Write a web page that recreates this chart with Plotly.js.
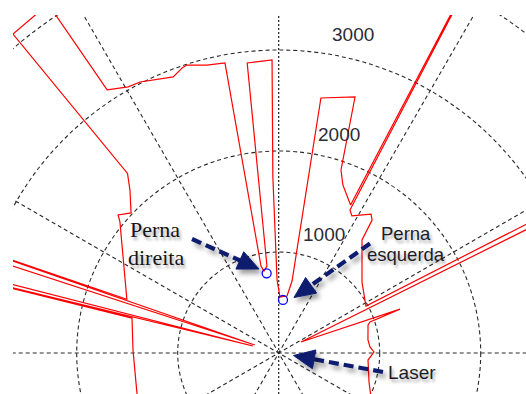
<!DOCTYPE html>
<html>
<head>
<meta charset="utf-8">
<script src="https://cdn.plot.ly/plotly-3.0.1.min.js"></script>
<style>
  html, body { margin: 0; padding: 0; background: #ffffff; }
  #chart { width: 526px; height: 394px; }
</style>
</head>
<body>
<div id="chart"></div>
<script>
// ---- Laser range scan (one sweep): beam angle in degrees (CCW from +x) and range in mm
const scanAngleDeg = [
  -30.0, -17.8, -4.5, -2.5, 0.6, 3.8, 8.3, 17.4, 18.8, 19.9,
  26.3, 26.5, 27.3, 28.3, 40.4, 53.6, 54.9, 56.4, 61.9, 63.5,
  62.8, 62.9, 64.1, 69.1, 71.2, 73.4, 80.6, 79.5, 81.7, 88.7,
  91.3, 91.9, 91.3, 96.2, 97.7, 100.2, 101.5, 100.5, 104.0, 107.7,
  108.7, 110.9, 117.1, 119.5, 123.1, 123.6, 124.8, 129.8, 130.1, 132.4,
  136.5, 139.3, 140.5, 160.5, 160.9, 161.5, 161.9, 165.6, 164.8, 166.3,
  166.6, 178.8, 196.1, 210.0
];
const scanRangeMm = [
  1070, 939, 887, 905, 943, 906, 893, 927, 955, 1277,
  246, 4600, 4600, 981, 1083, 1390, 1608, 1652, 1538, 1582,
  4700, 4700, 1629, 1781, 1914, 2645, 2559, 725, 570, 555,
  723, 1743, 2902, 2888, 869, 825, 879, 2920, 2938, 2992,
  2980, 2926, 3014, 3027, 3110, 4800, 4130, 4110, 2324, 2184,
  2015, 2097, 2037, 1595, 4700, 250, 4700, 4700, 265, 4700,
  1493, 1443, 1460, 1620
];

// ---- Detected legs
const legNames = ['Perna esquerda', 'Perna direita'];
const legAngleDeg = [85.4, 98.6];
const legRangeMm = [527, 798];

// ---- Polar grid
const ringRadiiMm = [1000, 2000, 3000, 4000];
const ringLabels = ['1000', '2000', '3000'];
const spokeAnglesDeg = [0, 30, 60, 90, 120, 150];

// ---- Geometry of the view (pixels): sensor position and scale
const W = 526, H = 394;
const OX = 278.7, OY = 353;       // sensor in page pixels
const PX_PER_MM = 0.101;
const PLOT_L = 13, PLOT_T = 15;   // clipped plotting box

const rad = d => d * Math.PI / 180;
const polX = (a, r) => r * Math.cos(rad(a));
const polY = (a, r) => r * Math.sin(rad(a));
const pxX = px => (px - OX) / PX_PER_MM;
const pxY = py => (OY - py) / PX_PER_MM;

const scanTrace = {
  type: 'scatter', mode: 'lines',
  x: scanAngleDeg.map((a, i) => polX(a, scanRangeMm[i])),
  y: scanAngleDeg.map((a, i) => polY(a, scanRangeMm[i])),
  line: { color: '#ff0000', width: 1.2 },
  hoverinfo: 'skip', showlegend: false
};

const legTrace = {
  type: 'scatter', mode: 'markers',
  x: legAngleDeg.map((a, i) => polX(a, legRangeMm[i])),
  y: legAngleDeg.map((a, i) => polY(a, legRangeMm[i])),
  text: legNames,
  marker: { symbol: 'circle-open', size: 9, color: '#0000ff', line: { width: 1.3, color: '#0000ff' } },
  hoverinfo: 'skip', showlegend: false
};

const GRID = { color: '#2a2a2a', width: 1.1, dash: '4px,3px' };
const shapes = [];
ringRadiiMm.forEach(R => shapes.push({
  type: 'circle', xref: 'x', yref: 'y', layer: 'below',
  x0: -R, x1: R, y0: -R, y1: R, line: GRID
}));
const SPOKE_LEN = 5000;
spokeAnglesDeg.forEach(a => shapes.push({
  type: 'line', xref: 'x', yref: 'y', layer: 'below',
  x0: polX(a, -SPOKE_LEN), y0: polY(a, -SPOKE_LEN),
  x1: polX(a, SPOKE_LEN), y1: polY(a, SPOKE_LEN),
  line: a === 90 ? { color: '#1e1e1e', width: 1.2, dash: '2px,2px' } : GRID
}));

// ---- Callout arrows (tail -> tip, in page pixels)
const ARROW_COLOR = '#101d6e';
const callouts = [
  { tail: [192, 239], tip: [259, 269] },
  { tail: [370, 243.5], tip: [294, 297.5] },
  { tail: [383, 372], tip: [293.5, 355.5] }
];
const HEAD_LEN = 21, HEAD_HALF = 9.5;
callouts.forEach(c => {
  const dx = c.tip[0] - c.tail[0], dy = c.tip[1] - c.tail[1];
  const L = Math.hypot(dx, dy), ux = dx / L, uy = dy / L;
  const bx = c.tip[0] - ux * HEAD_LEN, by = c.tip[1] - uy * HEAD_LEN;
  shapes.push({
    type: 'line', xref: 'x', yref: 'y', layer: 'above',
    x0: pxX(c.tail[0]), y0: pxY(c.tail[1]),
    x1: pxX(bx + ux * 3), y1: pxY(by + uy * 3),
    line: { color: ARROW_COLOR, width: 4.2, dash: '10px,5px' }
  });
  const p1 = [c.tip[0], c.tip[1]];
  const p2 = [bx - uy * HEAD_HALF, by + ux * HEAD_HALF];
  const p3 = [bx + uy * HEAD_HALF, by - ux * HEAD_HALF];
  shapes.push({
    type: 'path', xref: 'x', yref: 'y', layer: 'above',
    path: `M${pxX(p1[0])},${pxY(p1[1])} L${pxX(p2[0])},${pxY(p2[1])} L${pxX(p3[0])},${pxY(p3[1])} Z`,
    fillcolor: ARROW_COLOR, line: { color: ARROW_COLOR, width: 1 }
  });
});

// ---- Text
const SHADOW = '2px 3px 3px rgba(0,0,0,0.32)';
const annotations = [];
// ring labels placed along the 82 degree direction, just outside each ring
ringLabels.forEach((t, i) => {
  const r = ringRadiiMm[i] + 50;
  annotations.push({
    x: polX(82, r), y: polY(82, r),
    text: t, xanchor: 'left', yanchor: 'middle',
    xshift: 8, yshift: 13,
    font: { family: 'Liberation Sans, Arial, sans-serif', size: 19, color: '#2b2b38' }
  });
});
const serif = { family: 'Liberation Serif, Times New Roman, serif', size: 22, color: '#151515', shadow: SHADOW };
const sans = { family: 'Liberation Sans, Arial, sans-serif', size: 18.5, color: '#1c1c28', shadow: SHADOW };
annotations.push(
  { x: pxX(128), y: pxY(229.4), text: 'Perna', xanchor: 'left', yanchor: 'middle', font: serif },
  { x: pxX(126), y: pxY(257), text: 'direita', xanchor: 'left', yanchor: 'middle', font: serif },
  { x: pxX(405.5), y: pxY(233.2), text: 'Perna', xanchor: 'center', yanchor: 'middle', font: sans },
  { x: pxX(406), y: pxY(254.8), text: 'esquerda', xanchor: 'center', yanchor: 'middle', font: sans },
  { x: pxX(386), y: pxY(372.5), text: 'Laser', xanchor: 'left', yanchor: 'middle', font: Object.assign({}, sans, { size: 19 }) }
);
annotations.forEach(a => { a.xref = 'x'; a.yref = 'y'; a.showarrow = false; });

const layout = {
  width: W, height: H,
  margin: { l: PLOT_L, r: 0, t: PLOT_T, b: 0, pad: 0 },
  paper_bgcolor: '#ffffff', plot_bgcolor: '#ffffff',
  xaxis: { range: [pxX(PLOT_L), pxX(W)], visible: false, showgrid: false, zeroline: false, fixedrange: true },
  yaxis: { range: [pxY(H), pxY(PLOT_T)], visible: false, showgrid: false, zeroline: false, fixedrange: true },
  shapes: shapes,
  annotations: annotations,
  showlegend: false
};

Plotly.newPlot('chart', [scanTrace, legTrace], layout, { displayModeBar: false, staticPlot: true }).then(gd => {
  // soft drop shadow under the callout arrows
  const svg = gd.querySelector('svg.main-svg');
  const NS = 'http://www.w3.org/2000/svg';
  let defs = svg.querySelector('defs');
  if (!defs) { defs = document.createElementNS(NS, 'defs'); svg.insertBefore(defs, svg.firstChild); }
  const f = document.createElementNS(NS, 'filter');
  f.setAttribute('id', 'calloutShadow');
  f.setAttribute('filterUnits', 'userSpaceOnUse');
  f.setAttribute('x', '0'); f.setAttribute('y', '0');
  f.setAttribute('width', String(W)); f.setAttribute('height', String(H));
  const ds = document.createElementNS(NS, 'feDropShadow');
  ds.setAttribute('dx', '3'); ds.setAttribute('dy', '4');
  ds.setAttribute('stdDeviation', '2.5');
  ds.setAttribute('flood-color', '#000000'); ds.setAttribute('flood-opacity', '0.4');
  f.appendChild(ds);
  defs.appendChild(f);
  gd.querySelectorAll('.layer-above .shapelayer path').forEach(p => p.setAttribute('filter', 'url(#calloutShadow)'));
});
</script>
</body>
</html>
